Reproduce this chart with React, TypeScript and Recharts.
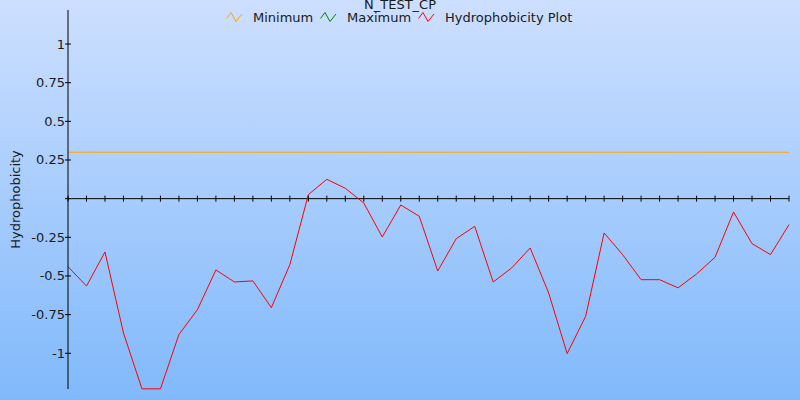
import React from 'react';
import {
  LineChart,
  Line,
  XAxis,
  YAxis,
  ReferenceLine,
  ReferenceDot,
  Label
} from 'recharts';

// residue positions along the sequence
const positions = [
  1, 2, 3, 4, 5, 6, 7, 8, 9, 10, 11, 12, 13, 14, 15, 16, 17, 18, 19, 20,
  21, 22, 23, 24, 25, 26, 27, 28, 29, 30, 31, 32, 33, 34, 35, 36, 37, 38, 39, 40
];

// hydrophobicity values
const hydrophobicity = [
  -0.44, -0.565, -0.345, -0.868, -1.23, -1.23, -0.879, -0.718, -0.461, -0.539,
  -0.532, -0.705, -0.427, 0.026, 0.125, 0.067, -0.028, -0.248, -0.041, -0.114,
  -0.468, -0.259, -0.179, -0.539, -0.448, -0.319, -0.61, -1.002, -0.761, -0.222,
  -0.362, -0.524, -0.524, -0.577, -0.487, -0.379, -0.086, -0.291, -0.362, -0.168
];

const minimum = [
  0.3, 0.3, 0.3, 0.3, 0.3, 0.3, 0.3, 0.3, 0.3, 0.3,
  0.3, 0.3, 0.3, 0.3, 0.3, 0.3, 0.3, 0.3, 0.3, 0.3,
  0.3, 0.3, 0.3, 0.3, 0.3, 0.3, 0.3, 0.3, 0.3, 0.3,
  0.3, 0.3, 0.3, 0.3, 0.3, 0.3, 0.3, 0.3, 0.3, 0.3
];

const yTicks = [-1, -0.75, -0.5, -0.25, 0, 0.25, 0.5, 0.75, 1];

const legendItems = [
  { name: 'Minimum', color: '#ffa500', left: 226 },
  { name: 'Maximum', color: '#008000', left: 320 },
  { name: 'Hydrophobicity Plot', color: '#ff0000', left: 418 }
];

const FONT = '"DejaVu Sans", Verdana, sans-serif';

const data = positions.map((p, i) => ({
  pos: p,
  value: hydrophobicity[i],
  min: minimum[i]
}));

const YTick = (props: any) => {
  const { x, y, payload } = props;
  return (
    <g>
      <line x1={x - 3} x2={x + 3} y1={y} y2={y} stroke="#000" />
      {payload.value !== 0 && (
        <text x={x - 3} y={y} dy={4.5} textAnchor="end" fontSize={13} fill="#1a1a1a" fontFamily={FONT}>
          {String(payload.value)}
        </text>
      )}
    </g>
  );
};

const TickMark = (props: any) => {
  const { cx, cy } = props;
  return <line x1={cx} x2={cx} y1={cy - 3} y2={cy + 3} stroke="#000" />;
};

const LegendIcon = ({ color }: { color: string }) => (
  <svg width={17} height={11} style={{ display: 'block' }}>
    <polyline points="0.5,6.5 5,0.5 10,9.5 16,2" fill="none" stroke={color} strokeWidth={1} />
  </svg>
);

export default function App() {
  return (
    <div
      style={{
        position: 'absolute',
        left: 0,
        top: 0,
        width: 800,
        height: 400,
        background: 'linear-gradient(to bottom, #cddfff, #80b9fb)',
        fontFamily: FONT,
        overflow: 'hidden'
      }}
    >
      <div
        style={{
          position: 'absolute',
          top: -3,
          left: 0,
          width: 800,
          textAlign: 'center',
          fontSize: 13,
          color: '#1a1a1a'
        }}
      >
        N_TEST_CP
      </div>
      {legendItems.map((item) => (
        <div
          key={item.name}
          style={{
            position: 'absolute',
            top: 10,
            left: item.left,
            display: 'flex',
            alignItems: 'center',
            fontSize: 13,
            color: '#1a1a1a',
            whiteSpace: 'nowrap'
          }}
        >
          <LegendIcon color={item.color} />
          <span style={{ marginLeft: 10 }}>{item.name}</span>
        </div>
      ))}
      <LineChart
        width={800}
        height={400}
        data={data}
        margin={{ top: 10, right: 11, left: 0, bottom: 11 }}
        style={{ position: 'absolute', left: 0, top: 0 }}
      >
        <XAxis dataKey="pos" type="number" domain={[1, 40]} hide />
        <YAxis
          type="number"
          domain={[-1.231, 1.22]}
          ticks={yTicks}
          width={68}
          tick={<YTick />}
          tickLine={false}
          tickSize={0}
          tickMargin={0}
          axisLine={{ stroke: '#000' }}
          interval={0}
        >
          <Label
            value="Hydrophobicity"
            angle={-90}
            position="insideLeft"
            offset={15}
            style={{ textAnchor: 'middle', fontSize: 13, fill: '#1a1a1a', fontFamily: FONT }}
          />
        </YAxis>
        <ReferenceLine y={0} stroke="#000" />
        {positions.map((p) => (
          <ReferenceDot key={p} x={p} y={0} shape={<TickMark />} />
        ))}
        <Line
          dataKey="min"
          stroke="#ffa500"
          strokeWidth={1}
          dot={false}
          isAnimationActive={false}
        />
        <Line
          dataKey="value"
          stroke="#ff0000"
          strokeWidth={1}
          dot={false}
          isAnimationActive={false}
        />
      </LineChart>
    </div>
  );
}
